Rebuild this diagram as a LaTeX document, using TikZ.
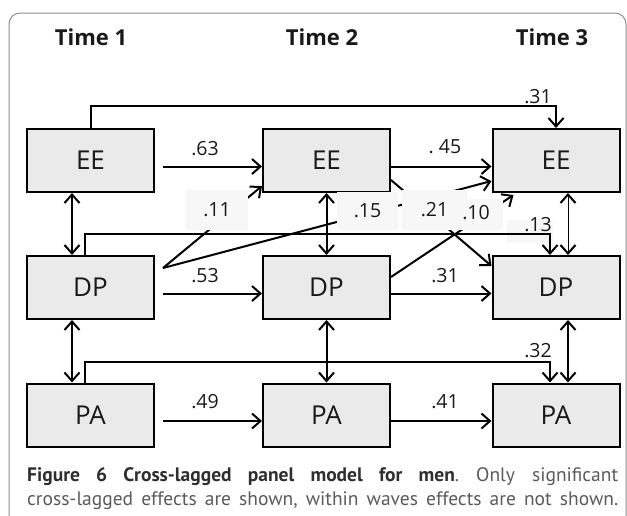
\documentclass[tikz,border=0pt]{standalone}
\usepackage{fontspec}
\setmainfont{Open Sans}
\newfontfamily\capfont{PT Sans}
\usetikzlibrary{arrows.meta,calc}
\definecolor{boxfill}{HTML}{EAEAEA}
\definecolor{lblfill}{HTML}{F7F7F7}
\definecolor{framec}{HTML}{8C8C8C}
\definecolor{capbold}{HTML}{2E2E2E}
\definecolor{capreg}{HTML}{5A5A5A}
\frenchspacing
\begin{document}
\begin{tikzpicture}[x=1pt,y=-1pt,
  box/.style={draw, line width=2pt, fill=boxfill, minimum width=127pt, minimum height=63pt, inner sep=0pt, font=\fontsize{26}{30}\selectfont, text=black!90},
  arr/.style={line width=2pt, -{Straight Barb[length=8.5pt,width=15pt]}},
  arrb/.style={line width=2pt, {Straight Barb[length=8.5pt,width=15pt]}-{Straight Barb[length=8.5pt,width=15pt]}},
  arrbthin/.style={line width=1pt, {Straight Barb[length=8.5pt,width=15pt,line width=2pt]}-{Straight Barb[length=8.5pt,width=15pt,line width=2pt]}},
  coef/.style={font=\fontsize{19.5}{22}\selectfont, inner sep=0pt, text=black!90},
  lblbox/.style={fill=lblfill, inner sep=0pt, font=\fontsize{19.5}{22}\selectfont, text=black!90},
  timelbl/.style={font=\bfseries\fontsize{22}{26}\selectfont, inner sep=0pt, text=black!90},
  capline/.style={anchor=base west, inner sep=0pt, text=capreg, font=\capfont\fontsize{19.5}{22}\selectfont}]
\useasboundingbox (0,0) rectangle (627,515);
% frame
\draw[framec, line width=1pt, rounded corners=11pt] (9,540) -- (9,13) -- (626,13) -- (626,540);
% time labels
\node[timelbl] (t1) at (91,37) {Time 1};
\node[timelbl] (t2) at (322,37) {Time 2};
\node[timelbl] (t3) at (552,37) {Time 3};
% boxes
\node[box] (ee1) at (90.5,160.5) {EE};
\node[box] (ee2) at (326.5,160.5) {EE};
\node[box] (ee3) at (556,160.5) {EE};
\node[box] (dp1) at (90.5,287.5) {DP};
\node[box] (dp2) at (326.5,287.5) {DP};
\node[box] (dp3) at (556,287.5) {DP};
\node[box] (pa1) at (90.5,415) {PA};
\node[box] (pa2) at (326.5,415) {PA};
\node[box] (pa3) at (556,415) {PA};
% autoregressive arrows
\draw[arr] ($(ee1.east)+(8,6)$) -- ($(ee2.west)+(0,6)$);
\draw[arr] ($(ee2.east)+(0,6)$) -- ($(ee3.west)+(0,6)$);
\draw[arr] ($(dp1.east)+(8,6)$) -- ($(dp2.west)+(0,6)$);
\draw[arr] ($(dp2.east)+(0,6)$) -- ($(dp3.west)+(0,6)$);
\draw[arr] ($(pa1.east)+(8,6)$) -- ($(pa2.west)+(0,6)$);
\draw[arr] ($(pa2.east)+(0,6)$) -- ($(pa3.west)+(0,6)$);
\node[coef] (c63) at (205,149) {.63};
\node[coef] (c45) at (445,147) {. 45};
\node[coef] (c53) at (205,276) {.53};
\node[coef] (c31b) at (445,276) {.31};
\node[coef] (c49) at (205,402) {.49};
\node[coef] (c41) at (445,402) {.41};
% within-wave bidirectional
\draw[arrb] ($(ee1.south)+(-18.5,0)$) -- ($(dp1.north)+(-18.5,0)$);
\draw[arrb] ($(dp1.south)+(-18.5,0)$) -- ($(pa1.north)+(-18.5,0)$);
\draw[arrb] (ee2.south) -- (dp2.north);
\draw[arrb] (dp2.south) -- (pa2.north);
\draw[arrbthin] ($(ee3.south)+(12,0)$) -- ($(dp3.north)+(12,0)$);
\draw[arrb] ($(dp3.south)+(12,0)$) -- ($(pa3.north)+(12,0)$);
% label box behind .13 line
\node[fill=lblfill, minimum width=46pt, minimum height=23pt, inner sep=0pt] (b13) at (530,231.5) {};
% long lagged paths
\draw[arr] (ee1.north) -- ++(0,-22) -| (ee3.north);
\node[coef] (c31) at (538,97) {.31};
\draw[arr] ($(dp1.north)+(-5.5,0)$) -- ++(0,-21) -| ($(dp3.north)+(-6,0)$);
\node[coef] (c13) at (538,225) {.13};
\draw[arr] ($(pa1.north)+(-5.5,0)$) -- ++(0,-21) -| ($(pa3.north)+(-6,0)$);
\node[coef] (c32) at (538,351) {.32};
% diagonal cross-lagged paths
\draw[arr] ($(dp1.north east)+(8,13)$) -- ($(ee2.south west)+(0,-7)$);
\draw[arr] ($(dp1.north east)+(8,13)$) -- ($(ee3.south west)+(0,-12)$);
\draw[arr] ($(ee2.east)+(0,19.5)$) -- ($(dp3.north west)+(0,11)$);
\draw[arr] ($(dp2.north east)+(0,22)$) -- ($(ee3.south west)+(22,2)$);
% label boxes over diagonals
\node[lblbox, minimum width=62pt, minimum height=40pt] (l11) at (217,210) {.11};
\node[lblbox, minimum width=61pt, minimum height=38pt] (l15) at (367.5,211) {.15};
\node[lblbox, minimum width=38pt, minimum height=31pt] (l10) at (484,214.5) {};
\node[lblbox, minimum width=65pt, minimum height=40pt] (l21) at (434.5,210) {.21};
\node[coef] (c10) at (476,213) {.10};
% caption
\node[capline] (cap1) at (27,481) {\makebox[591pt][s]{\textcolor{capbold}{\bfseries Figure 6 Cross-lagged panel model for men}. Only significant}};
\node[capline] (cap2) at (27,505) {\makebox[591pt][s]{cross-lagged effects are shown, within waves effects are not shown.}};
\end{tikzpicture}
\end{document}
